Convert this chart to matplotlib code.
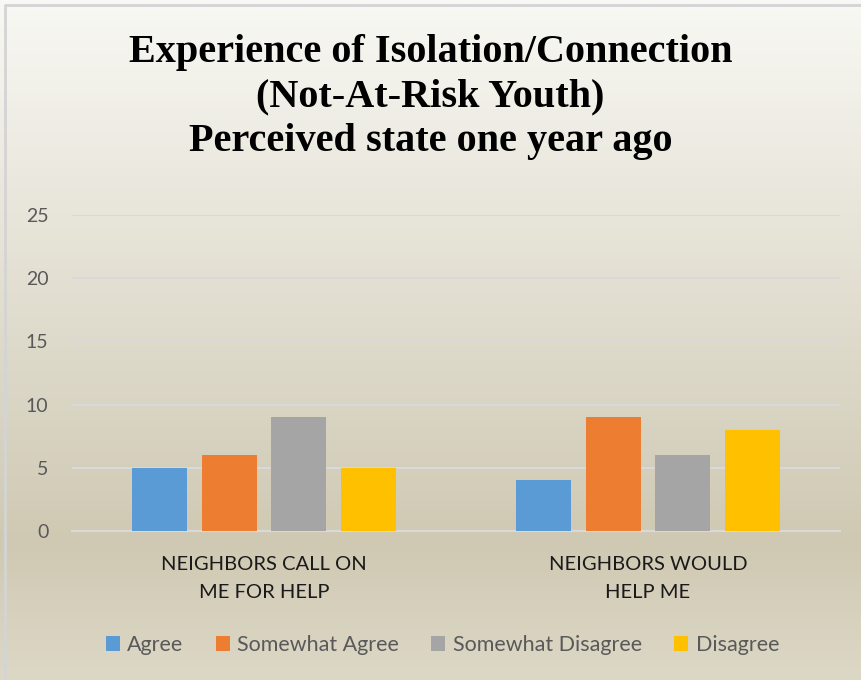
import numpy as np
import matplotlib.pyplot as plt
from matplotlib.colors import LinearSegmentedColormap

# Survey counts per statement
categories = ['NEIGHBORS CALL ON\nME FOR HELP', 'NEIGHBORS WOULD\nHELP ME']
responses = ['Agree', 'Somewhat Agree', 'Somewhat Disagree', 'Disagree']
agree = [5, 4]
somewhat_agree = [6, 9]
somewhat_disagree = [9, 6]
disagree = [5, 8]
yticks = [0, 5, 10, 15, 20, 25]

colors = ['#5b9bd5', '#ed7d31', '#a5a5a5', '#ffc000']
series = [agree, somewhat_agree, somewhat_disagree, disagree]

fig = plt.figure(figsize=(8.61, 6.8), dpi=100)

# Parchment style gradient behind everything
bg = fig.add_axes([0, 0, 1, 1], zorder=0)
grad_cmap = LinearSegmentedColormap.from_list(
    'parch', [(0.0, '#f8f8f4'), (0.80, '#cfc9b3'), (1.0, '#ddd8c6')])
grad = np.linspace(0, 1, 256).reshape(-1, 1)
bg.imshow(grad, aspect='auto', cmap=grad_cmap, extent=[0, 1, 0, 1], origin='upper')
bg.plot([0.006, 0.006, 1], [0, 0.993, 0.993], color='#d4d4d4', lw=2, transform=bg.transAxes)
bg.axis('off')

# Plot area
ax = fig.add_axes([72 / 861, 1 - 531 / 680, 768 / 861, 316 / 680], zorder=1)
ax.patch.set_alpha(0)

x = np.arange(len(categories))
width = 0.143
step = 0.182
for i, (vals, label, c) in enumerate(zip(series, responses, colors)):
    ax.bar(x + (i - 1.5) * step, vals, width, color=c, label=label, zorder=3)

ax.set_xlim(-0.5, 1.5)
ax.set_ylim(0, 25)
ax.set_yticks(yticks)
ax.set_xticks(x)
ax.set_xticklabels(categories, fontsize=14.5, color='#1a1a1a', family='Lato', linespacing=1.75)
ax.tick_params(axis='x', length=0, pad=18)
ax.tick_params(axis='y', length=0, pad=17, labelsize=14, labelcolor='#595959')
for lbl in ax.get_yticklabels():
    lbl.set_family('Lato')
ax.grid(axis='y', color='#d9d9d9', lw=1.5, zorder=0)
for side in ['top', 'right', 'left']:
    ax.spines[side].set_visible(False)
ax.spines['bottom'].set_color('#d9d9d9')
ax.spines['bottom'].set_linewidth(1.5)

fig.text(0.5, 1 - 97 / 680,
         'Experience of Isolation/Connection\n(Not-At-Risk Youth)\nPerceived state one year ago',
         ha='center', va='center', fontsize=29, fontweight='bold',
         family='Liberation Serif', linespacing=1.26)

fig.legend(loc='center', bbox_to_anchor=(0.5 + 12 / 861, 1 - 645 / 680), ncol=4, frameon=False,
           prop={'family': 'Lato', 'size': 15.5}, handlelength=0.65, handleheight=0.65,
           handletextpad=0.35, columnspacing=1.5, labelcolor='#595959')

fig.savefig('out.png', dpi=100)
